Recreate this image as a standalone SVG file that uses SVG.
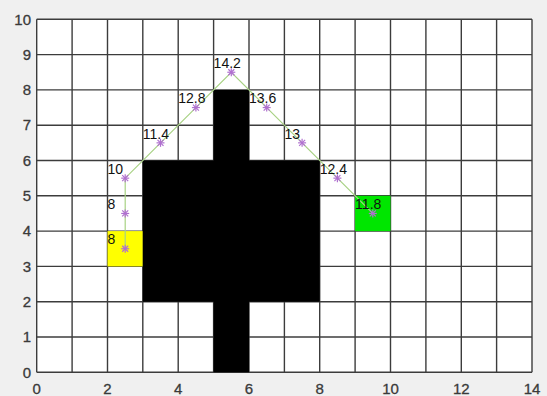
<svg xmlns="http://www.w3.org/2000/svg" width="547" height="396" viewBox="0 0 547 396">
<style>
.grid line{stroke:#3c3c3c;stroke-width:1.4}
.tick{font-family:"Liberation Sans",Arial,sans-serif;font-size:15px;fill:#3a3a3a;stroke:#3a3a3a;stroke-width:0.3}
.lbl{font-family:"Liberation Sans",Arial,sans-serif;font-size:14px;fill:#111}
.mk{stroke:#b070d0;stroke-width:1.2;fill:none}
</style>
<defs>
<g id="star" class="mk"><line x1="-4" y1="0" x2="4" y2="0"/><line x1="0" y1="-4" x2="0" y2="4"/><line x1="-3" y1="-3" x2="3" y2="3"/><line x1="-3" y1="3" x2="3" y2="-3"/></g>
</defs>
<rect x="0" y="0" width="547" height="396" fill="#f0f0f0"/>
<rect x="36.7" y="19.3" width="495.3" height="353" fill="#ffffff"/>
<g class="grid">
<line x1="36.7" y1="19.3" x2="36.7" y2="372.3"/><line x1="72.1" y1="19.3" x2="72.1" y2="372.3"/><line x1="107.5" y1="19.3" x2="107.5" y2="372.3"/><line x1="142.8" y1="19.3" x2="142.8" y2="372.3"/><line x1="178.2" y1="19.3" x2="178.2" y2="372.3"/><line x1="213.6" y1="19.3" x2="213.6" y2="372.3"/><line x1="249.0" y1="19.3" x2="249.0" y2="372.3"/><line x1="284.4" y1="19.3" x2="284.4" y2="372.3"/><line x1="319.7" y1="19.3" x2="319.7" y2="372.3"/><line x1="355.1" y1="19.3" x2="355.1" y2="372.3"/><line x1="390.5" y1="19.3" x2="390.5" y2="372.3"/><line x1="425.9" y1="19.3" x2="425.9" y2="372.3"/><line x1="461.3" y1="19.3" x2="461.3" y2="372.3"/><line x1="496.6" y1="19.3" x2="496.6" y2="372.3"/><line x1="532.0" y1="19.3" x2="532.0" y2="372.3"/>
<line x1="36.7" y1="372.3" x2="532" y2="372.3"/><line x1="36.7" y1="337.0" x2="532" y2="337.0"/><line x1="36.7" y1="301.7" x2="532" y2="301.7"/><line x1="36.7" y1="266.4" x2="532" y2="266.4"/><line x1="36.7" y1="231.1" x2="532" y2="231.1"/><line x1="36.7" y1="195.8" x2="532" y2="195.8"/><line x1="36.7" y1="160.5" x2="532" y2="160.5"/><line x1="36.7" y1="125.2" x2="532" y2="125.2"/><line x1="36.7" y1="89.9" x2="532" y2="89.9"/><line x1="36.7" y1="54.6" x2="532" y2="54.6"/><line x1="36.7" y1="19.3" x2="532" y2="19.3"/>
</g>
<g id="start"><rect x="107.5" y="231.1" width="35.3" height="35.3" fill="#ffff00"/></g>
<g id="goal"><rect x="355.1" y="195.8" width="35.4" height="35.3" fill="#00e600"/></g>
<g id="obstacle"><path d="M213.6 372.3V301.7H142.8V160.5H213.6V89.9H249.0V160.5H319.7V301.7H249.0V372.3Z" fill="#000"/></g>
<g id="connectors">
<polyline points="125.2,248.75 125.2,213.45 125.2,178.15 160.5,142.85 195.9,107.55 231.3,72.25 266.7,107.55 302.1,142.85 337.4,178.15 372.8,213.45" fill="none" stroke="#a8d284" stroke-width="1.2"/>
</g>
<g id="p1"><use href="#star" x="125.2" y="248.75"/><text class="lbl" x="107.5" y="244">8</text></g>
<g id="p2"><use href="#star" x="125.2" y="213.45"/><text class="lbl" x="107.5" y="209">8</text></g>
<g id="p3"><use href="#star" x="125.2" y="178.15"/><text class="lbl" x="107.5" y="174">10</text></g>
<g id="p4"><use href="#star" x="160.5" y="142.85"/><text class="lbl" x="142.8" y="138.5">11.4</text></g>
<g id="p5"><use href="#star" x="195.9" y="107.55"/><text class="lbl" x="178.2" y="103">12.8</text></g>
<g id="p6"><use href="#star" x="231.3" y="72.25"/><text class="lbl" x="213.6" y="68">14.2</text></g>
<g id="p7"><use href="#star" x="266.7" y="107.55"/><text class="lbl" x="249.0" y="103">13.6</text></g>
<g id="p8"><use href="#star" x="302.1" y="142.85"/><text class="lbl" x="284.4" y="138.5">13</text></g>
<g id="p9"><use href="#star" x="337.4" y="178.15"/><text class="lbl" x="319.7" y="174">12.4</text></g>
<g id="p10"><use href="#star" x="372.8" y="213.45"/><text class="lbl" x="355.1" y="209">11.8</text></g>
<g class="tick" text-anchor="end">
<text x="31" y="377.5">0</text><text x="31" y="342.2">1</text><text x="31" y="306.9">2</text><text x="31" y="271.6">3</text><text x="31" y="236.3">4</text><text x="31" y="201">5</text><text x="31" y="165.7">6</text><text x="31" y="130.4">7</text><text x="31" y="95.1">8</text><text x="31" y="59.8">9</text><text x="31" y="24.5">10</text>
</g>
<g class="tick" text-anchor="middle">
<text x="36.7" y="393.5">0</text><text x="107.5" y="393.5">2</text><text x="178.2" y="393.5">4</text><text x="249.0" y="393.5">6</text><text x="319.7" y="393.5">8</text><text x="390.5" y="393.5">10</text><text x="461.3" y="393.5">12</text><text x="532" y="393.5">14</text>
</g>
</svg>
